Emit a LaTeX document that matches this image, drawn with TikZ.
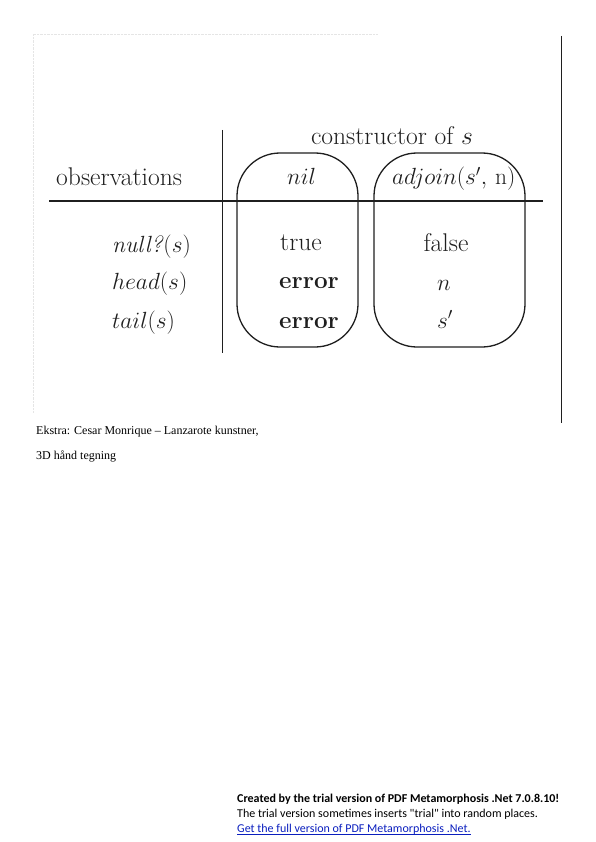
\RequirePackage{fix-cm}
\documentclass[tikz,border=0pt]{standalone}
\usepackage{fontspec}
\newfontfamily\timesfont{Liberation Serif}
\newfontfamily\calfont{Carlito}
\definecolor{ink}{gray}{0.12}
\definecolor{linkblue}{RGB}{10,30,190}
\begin{document}
\begin{tikzpicture}[x=1pt,y=-1pt,
  rule/.style={draw=ink,line width=1.3pt},
  pill/.style={draw=ink,line width=1.3pt,rounded corners=43pt,inner sep=0pt},
  big/.style={inner sep=0pt,text=ink,font=\fontsize{25.6}{30}\selectfont},
  bigm/.style={inner sep=0pt,text=ink,font=\fontsize{23.4}{28}\selectfont},
  bigb/.style={inner sep=0pt,text=ink,font=\fontsize{24.3}{29}\selectfont\bfseries},
  note/.style={inner sep=0pt,font=\timesfont\fontsize{12}{14}\selectfont,anchor=base west},
  foot/.style={inner sep=0pt,font=\calfont\fontsize{12}{14}\selectfont,anchor=base west},
  frame/.style={draw=black!10,line width=0.4pt,densely dotted}]
\useasboundingbox (0,0) rectangle (596,842);
% faint frame of the embedded image
\draw[frame] (34,34) -- (378,34);
\draw[frame] (33,34) -- (33,413);
% right margin line
\coordinate (rtop) at (561,36);
\coordinate (rbot) at (561,423);
\draw[rule,line width=1pt] (rtop) -- (rbot);
% table rules
\coordinate (hl) at (49,201);
\coordinate (hr) at (543,201);
\coordinate (vt) at (222.7,130);
\coordinate (vb) at (222.7,353);
\draw[rule] (hl) -- (hr);
\draw[rule] (vt) -- (vb);
% pills
\node[pill,minimum width=121pt,minimum height=194pt] (nilbox) at (297.5,250) {};
\node[pill,minimum width=151pt,minimum height=194pt] (adjbox) at (449.5,250) {};
% header texts
\node[big,anchor=base west] (obs) at (56,186) {observations};
\node[big,anchor=base] (cons) at (392,145) {constructor of $s$};
\node[bigm,anchor=base] (nil) at (301.5,185) {$nil$};
\node[bigm,anchor=base west] (adj) at (392,185) {$adjoin(s',\,\mathrm{n})$};
% rows
\node[bigm,anchor=base west] (r1) at (112,252) {\textit{null?}$(s)$};
\node[bigm,anchor=base west] (r2) at (112,289) {$head(s)$};
\node[bigm,anchor=base west] (r3) at (112,328) {$tail(s)$};
\node[big,anchor=base west] (a1) at (280,250) {true};
\node[bigb,anchor=base west] (a2) at (279,288.5) {error};
\node[bigb,anchor=base west] (a3) at (279,328.5) {error};
\node[big,anchor=base] (b1) at (446,251) {false};
\node[bigm,anchor=base] (b2) at (444,290) {$n$};
\node[bigm,anchor=base] (b3) at (445,328) {$s'$};
% notes
\node[note] (n1) at (36,434.3) {Ekstra: Cesar Monrique – Lanzarote kunstner,};
\node[note] (n2) at (36,459) {3D hånd tegning};
% footer
\node[foot,font=\calfont\bfseries\fontsize{12}{14}\selectfont] (f1) at (237,802) {Created by the trial version of PDF Metamorphosis .Net 7.0.8.10!};
\node[foot] (f2) at (237,817) {The trial version sometimes inserts "trial" into random places.};
\node[foot,text=linkblue] (f3) at (237,832) {Get the full version of PDF Metamorphosis .Net.};
\draw[linkblue,line width=0.6pt] ([yshift=-1.8pt]f3.base west) -- ([yshift=-1.8pt]f3.base east);
\end{tikzpicture}
\end{document}
